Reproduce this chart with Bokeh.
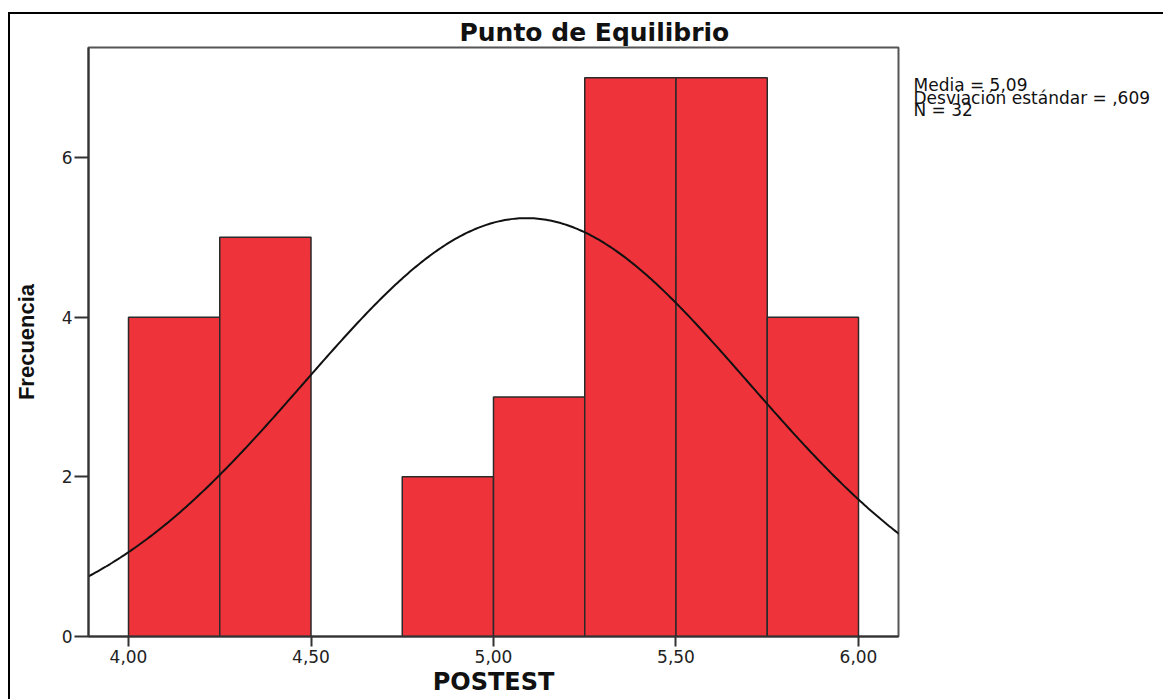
import numpy as np
from bokeh.plotting import figure
from bokeh.layouts import row
from bokeh.models import FixedTicker, ColumnDataSource, Title, Range1d
from bokeh.core.properties import value
from bokeh.embed import file_html
from bokeh.resources import INLINE

# ---- data ----
bin_left = [4.00, 4.25, 4.50, 4.75, 5.00, 5.25, 5.50, 5.75]
bin_right = [4.25, 4.50, 4.75, 5.00, 5.25, 5.50, 5.75, 6.00]
frequency = [4, 5, 0, 2, 3, 7, 7, 4]
x_tick_values = [4.0, 4.5, 5.0, 5.5, 6.0]
x_tick_labels = ["4,00", "4,50", "5,00", "5,50", "6,00"]
y_tick_values = [0, 2, 4, 6]
mean_val = 5.09
sd_val = 0.609
n_val = 32
bin_width = 0.25
stats_lines = ["Media = 5,09", "Desviación estándar = ,609", "N = 32"]

# ---- main figure ----
x0, x1 = 3.8904, 6.1096
y0, y1 = 0.0, 7.378

p = figure(width=898, height=685, output_backend="svg", toolbar_location=None,
           x_range=(x0, x1), y_range=(y0, y1),
           min_border_left=78, min_border_right=10, min_border_top=33, min_border_bottom=63)
p.background_fill_color = "white"
p.border_fill_color = "white"
p.outline_line_color = "#555555"
p.outline_line_width = 2
p.xgrid.visible = False
p.ygrid.visible = False

p.add_layout(Title(text="Punto de Equilibrio", align="left", offset=371, standoff=2,
                   text_font="DejaVu Sans", text_font_style="bold",
                   text_font_size="25px", text_color="#111111"), "above")

keep = [i for i, f in enumerate(frequency) if f > 0]
src = ColumnDataSource(dict(
    left=[bin_left[i] for i in keep],
    right=[bin_right[i] for i in keep],
    top=[frequency[i] for i in keep],
    bottom=[0] * len(keep),
))
p.quad(left="left", right="right", top="top", bottom="bottom", source=src,
       fill_color="#EF333B", line_color="#2a2a2a", line_width=1.5)

# normal curve from the shown statistics
xs = np.linspace(x0 - 0.02, x1 + 0.02, 400)
ys = n_val * bin_width / (sd_val * np.sqrt(2 * np.pi)) * np.exp(-0.5 * ((xs - mean_val) / sd_val) ** 2)
p.line(xs, ys, line_color="#111111", line_width=2)

# axes
p.xaxis.ticker = FixedTicker(ticks=x_tick_values)
p.xaxis.major_label_overrides = {v: l for v, l in zip(x_tick_values, x_tick_labels)}
p.yaxis.ticker = FixedTicker(ticks=y_tick_values)
for ax in (p.xaxis[0], p.yaxis[0]):
    ax.minor_tick_line_color = None
    ax.major_tick_in = 0
    ax.major_tick_line_color = "#333333"
    ax.major_tick_line_width = 2
    ax.axis_line_color = "#333333"
    ax.axis_line_width = 2
    ax.major_label_text_font = "DejaVu Sans"
    ax.major_label_text_font_size = "17px"
    ax.major_label_text_color = "#222222"
p.xaxis.major_tick_out = 10
p.xaxis.major_label_standoff = 3
p.yaxis.major_tick_out = 14
p.yaxis.major_label_standoff = 2

p.yaxis.axis_label = "Frecuencia"
p.yaxis.axis_label_text_font = "Liberation Sans"
p.yaxis.axis_label_text_font_style = "bold"
p.yaxis.axis_label_text_font_size = "22px"
p.yaxis.axis_label_text_color = "#111111"
p.yaxis.axis_label_standoff = 20

p.xaxis.axis_label = "POSTEST"
p.xaxis.axis_label_text_font = "DejaVu Sans"
p.xaxis.axis_label_text_font_style = "bold"
p.xaxis.axis_label_text_font_size = "24px"
p.xaxis.axis_label_text_color = "#111111"
p.xaxis.axis_label_standoff = 2

# ---- stats panel (text to the right of the plot box) ----
q = figure(frame_width=255, frame_height=685, output_backend="svg", toolbar_location=None,
           x_range=Range1d(0, 255), y_range=Range1d(685, 0),
           x_axis_type=None, y_axis_type=None,
           min_border_left=0, min_border_right=0, min_border_top=0, min_border_bottom=0)
q.title.visible = False
q.outline_line_color = None
q.background_fill_color = "white"
q.border_fill_color = "white"
q.xgrid.visible = False
q.ygrid.visible = False
stats_src = ColumnDataSource(dict(x=[5, 5, 5], y=[37, 50, 62], text=stats_lines))
q.text(x="x", y="y", text="text", source=stats_src, text_font=value("DejaVu Sans"),
       text_font_size=value("17px"), text_baseline="middle", text_align="left",
       text_color="#111111")

lay = row(p, q)
lay.styles = {"border-left": "2px solid #000", "border-top": "2px solid #000",
              "margin-top": "12px", "margin-left": "8px"}

open("out.html", "w").write(file_html(lay, INLINE))
